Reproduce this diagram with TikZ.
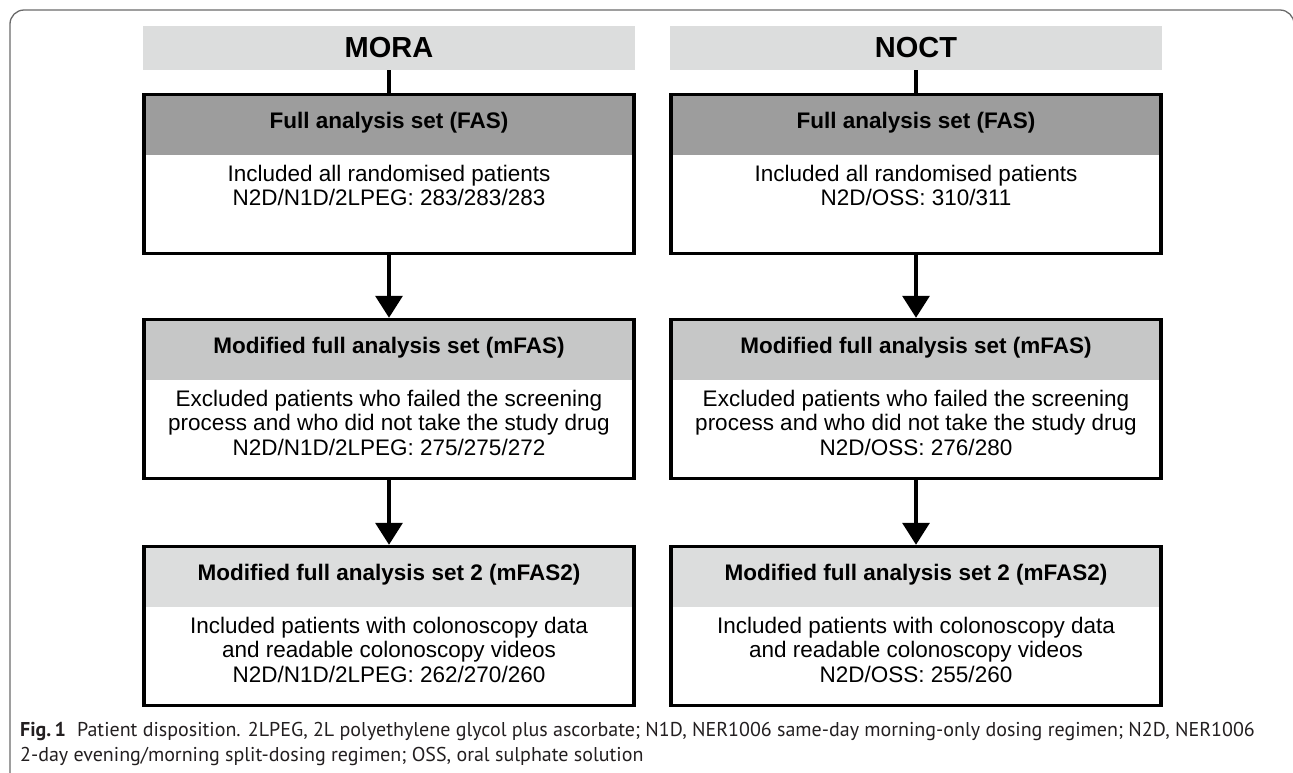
\documentclass[tikz,border=0pt]{standalone}
\usepackage{fontspec}
\setmainfont{Liberation Sans}
\newfontfamily\capfont{PT Sans}
\usetikzlibrary{arrows.meta}
\definecolor{hdrgray}{HTML}{DCDDDD}
\definecolor{bandA}{HTML}{9D9D9D}
\definecolor{bandB}{HTML}{C6C7C7}
\definecolor{bandC}{HTML}{DCDDDD}
\definecolor{framegray}{HTML}{6A6A6A}
\definecolor{captext}{HTML}{231F20}
\begin{document}
\begin{tikzpicture}[x=1pt,y=-1pt,
  hdr/.style={fill=hdrgray, minimum width=492pt, minimum height=44pt, inner sep=0pt,
    font=\bfseries\fontsize{29}{34}\selectfont},
  box/.style={draw=black, line width=3.5pt, minimum width=490pt, minimum height=159pt, inner sep=0pt,
    path picture={\fill[#1] (path picture bounding box.north west) rectangle ([yshift=-60pt]path picture bounding box.north east);}},
  ttl/.style={inner sep=0pt, font=\bfseries\fontsize{22.5}{26}\selectfont},
  bodytxt/.style={inner sep=0pt, align=center, font=\fontsize{22.5}{24.5}\selectfont},
  link/.style={line width=3.5pt},
  arr/.style={line width=3.5pt, -{Triangle[width=27pt,length=22pt]}},
  captxt/.style={inner sep=0pt, align=left, text=captext, font=\capfont\fontsize{20}{25}\selectfont}
]
\useasboundingbox (0,0) rectangle (1293,772);
\draw[framegray, line width=1.3pt, rounded corners=14pt] (10,10) rectangle (1294,800);

% headers
\node[hdr] (hM) at (389,48) {MORA};
\node[hdr] (hN) at (916,48) {NOCT};

% left column
\node[box=bandA] (fasL) at (389,174) {};
\node[ttl] (fasLt) at ([yshift=-30pt]fasL.north) {Full analysis set (FAS)};
\node[bodytxt, anchor=north] (fasLb) at ([yshift=-72pt]fasL.north) {Included all randomised patients\\N2D/N1D/2LPEG: 283/283/283};

\node[box=bandB] (mfasL) at (389,399) {};
\node[ttl] (mfasLt) at ([yshift=-30pt]mfasL.north) {Modified full analysis set (mFAS)};
\node[bodytxt, anchor=north] (mfasLb) at ([yshift=-72pt]mfasL.north) {Excluded patients who failed the screening\\process and who did not take the study drug\\N2D/N1D/2LPEG: 275/275/272};

\node[box=bandC] (mfas2L) at (389,626) {};
\node[ttl] (mfas2Lt) at ([yshift=-30pt]mfas2L.north) {Modified full analysis set 2 (mFAS2)};
\node[bodytxt, anchor=north] (mfas2Lb) at ([yshift=-72pt]mfas2L.north) {Included patients with colonoscopy data\\and readable colonoscopy videos\\N2D/N1D/2LPEG: 262/270/260};

% right column
\node[box=bandA] (fasR) at (916,174) {};
\node[ttl] (fasRt) at ([yshift=-30pt]fasR.north) {Full analysis set (FAS)};
\node[bodytxt, anchor=north] (fasRb) at ([yshift=-72pt]fasR.north) {Included all randomised patients\\N2D/OSS: 310/311};

\node[box=bandB] (mfasR) at (916,399) {};
\node[ttl] (mfasRt) at ([yshift=-30pt]mfasR.north) {Modified full analysis set (mFAS)};
\node[bodytxt, anchor=north] (mfasRb) at ([yshift=-72pt]mfasR.north) {Excluded patients who failed the screening\\process and who did not take the study drug\\N2D/OSS: 276/280};

\node[box=bandC] (mfas2R) at (916,626) {};
\node[ttl] (mfas2Rt) at ([yshift=-30pt]mfas2R.north) {Modified full analysis set 2 (mFAS2)};
\node[bodytxt, anchor=north] (mfas2Rb) at ([yshift=-72pt]mfas2R.north) {Included patients with colonoscopy data\\and readable colonoscopy videos\\N2D/OSS: 255/260};

% connectors
\draw[link] (hM.south) -- (fasL.north);
\draw[link] (hN.south) -- (fasR.north);
\draw[arr] (fasL.south) -- (mfasL.north);
\draw[arr] (mfasL.south) -- (mfas2L.north);
\draw[arr] (fasR.south) -- (mfasR.north);
\draw[arr] (mfasR.south) -- (mfas2R.north);

% caption
\node[captxt, anchor=west] (cap) at (20,744) {\textbf{Fig.\,1}\hspace{0.55em}Patient disposition. 2LPEG, 2L polyethylene glycol plus ascorbate; N1D, NER1006 same-day morning-only dosing regimen; N2D, NER1006\\2-day evening/morning split-dosing regimen; OSS, oral sulphate solution};
\end{tikzpicture}
\end{document}
